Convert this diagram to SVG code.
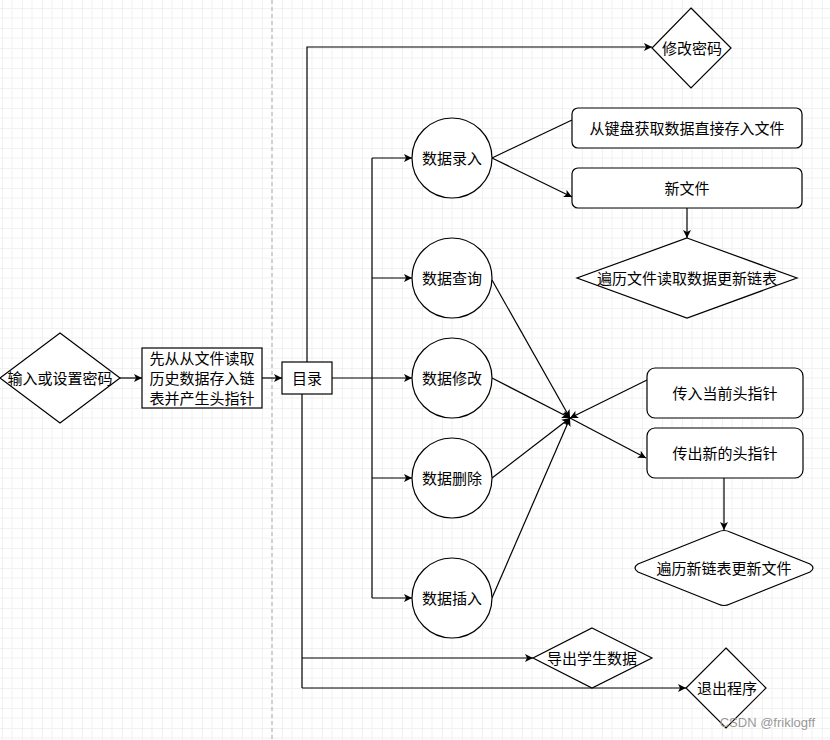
<svg xmlns="http://www.w3.org/2000/svg" width="830" height="740" viewBox="0 0 830 740">
<defs>
<pattern id="g" width="20" height="20" patternUnits="userSpaceOnUse" x="2" y="8">
<path d="M20 0H0V20" fill="none" stroke="#e4e4e4" stroke-width="1"/>
<path d="M10 0V20M0 10H20" fill="none" stroke="#f1f1f1" stroke-width="1"/>
</pattern>
<marker id="a" viewBox="0 0 10 10" refX="10" refY="5" markerWidth="8" markerHeight="8" orient="auto" markerUnits="userSpaceOnUse">
<path d="M0 0L10 5L0 10L2.5 5Z" fill="#000"/>
</marker>
<style>
.s{fill:#fff;stroke:#000;stroke-width:1.2}
.t{font-family:"Liberation Sans","Noto Sans CJK SC",sans-serif;font-size:15px;fill:#000;text-anchor:middle;dominant-baseline:central}
.c path,.c line,.c polyline{fill:none;stroke:#000;stroke-width:1.2}
.ar{marker-end:url(#a)}
</style>
</defs>
<rect width="830" height="740" fill="#fff"/>
<rect width="830" height="740" fill="url(#g)"/>
<line x1="272" y1="0" x2="272" y2="740" stroke="#aaa" stroke-dasharray="4 3"/>
<g class="c" id="connectors">
<line class="ar" x1="120" y1="378" x2="142" y2="378"/>
<line class="ar" x1="262" y1="378" x2="282" y2="378"/>
<polyline class="ar" points="307,362 307,47 652,47"/>
<line class="ar" x1="332" y1="378" x2="412" y2="378"/>
<polyline points="372,158 372,598"/>
<line class="ar" x1="372" y1="158" x2="412" y2="158"/>
<line class="ar" x1="372" y1="278" x2="412" y2="278"/>
<line class="ar" x1="372" y1="478" x2="412" y2="478"/>
<line class="ar" x1="372" y1="598" x2="412" y2="598"/>
<polyline points="302,394 302,688"/>
<line class="ar" x1="302" y1="658" x2="533" y2="658"/>
<line class="ar" x1="302" y1="688" x2="686" y2="688"/>
<line x1="492" y1="158" x2="572" y2="120"/>
<line class="ar" x1="492" y1="158" x2="572" y2="197"/>
<line class="ar" x1="687" y1="208" x2="687" y2="238"/>
<line class="ar" x1="492" y1="280" x2="570" y2="418"/>
<line class="ar" x1="492" y1="378" x2="570" y2="418"/>
<line class="ar" x1="492" y1="478" x2="570" y2="418"/>
<line class="ar" x1="492" y1="598" x2="570" y2="418"/>
<line class="ar" x1="647" y1="380" x2="570" y2="418"/>
<line class="ar" x1="570" y1="418" x2="646" y2="458"/>
<line class="ar" x1="724" y1="478" x2="724" y2="530"/>
</g>
<g id="n1"><path class="s" d="M60 333L120 378L60 423L0 378Z"/><text class="t" x="60" y="378">输入或设置密码</text></g>
<g id="n2"><rect class="s" x="142" y="348" width="120" height="60"/><text class="t" x="202" y="358">先从从文件读取</text><text class="t" x="202" y="378">历史数据存入链</text><text class="t" x="202" y="398">表并产生头指针</text></g>
<g id="n3"><rect class="s" x="282" y="362" width="50" height="32"/><text class="t" x="307" y="378">目录</text></g>
<g id="n4"><path class="s" d="M691 8L731 48L691 88L652 48Z"/><text class="t" x="692" y="48">修改密码</text></g>
<g id="c1"><circle class="s" cx="452" cy="158" r="40"/><text class="t" x="452" y="158">数据录入</text></g>
<g id="c2"><circle class="s" cx="452" cy="278" r="40"/><text class="t" x="452" y="278">数据查询</text></g>
<g id="c3"><circle class="s" cx="452" cy="378" r="40"/><text class="t" x="452" y="378">数据修改</text></g>
<g id="c4"><circle class="s" cx="452" cy="478" r="40"/><text class="t" x="452" y="478">数据删除</text></g>
<g id="c5"><circle class="s" cx="452" cy="598" r="40"/><text class="t" x="452" y="598">数据插入</text></g>
<g id="r1"><rect class="s" x="572" y="108" width="230" height="40" rx="6"/><text class="t" x="687" y="128">从键盘获取数据直接存入文件</text></g>
<g id="r2"><rect class="s" x="572" y="168" width="230" height="40" rx="6"/><text class="t" x="687" y="188">新文件</text></g>
<g id="d1"><path class="s" d="M687 238L797 278L687 318L577 278Z"/><text class="t" x="687" y="278">遍历文件读取数据更新链表</text></g>
<g id="r3"><rect class="s" x="647" y="368" width="156" height="50" rx="8"/><text class="t" x="725" y="393">传入当前头指针</text></g>
<g id="r4"><rect class="s" x="647" y="428" width="156" height="50" rx="8"/><text class="t" x="725" y="453">传出新的头指针</text></g>
<g id="d2"><path class="s" d="M718 532Q724 529 730 532L810 564Q816 568 810 572L730 604Q724 607 718 604L638 572Q632 568 638 564Z"/><text class="t" x="724" y="568">遍历新链表更新文件</text></g>
<g id="d3"><path class="s" d="M592 628L652 658L592 688L533 658Z"/><text class="t" x="592" y="658">导出学生数据</text></g>
<g id="d4"><path class="s" d="M726 648L766 688L726 728L686 688Z"/><text class="t" x="727" y="688">退出程序</text></g>
<text x="815" y="722" font-family="Liberation Sans,sans-serif" font-size="13" fill="#999" text-anchor="end" dominant-baseline="central">CSDN @friklogff</text>
</svg>
